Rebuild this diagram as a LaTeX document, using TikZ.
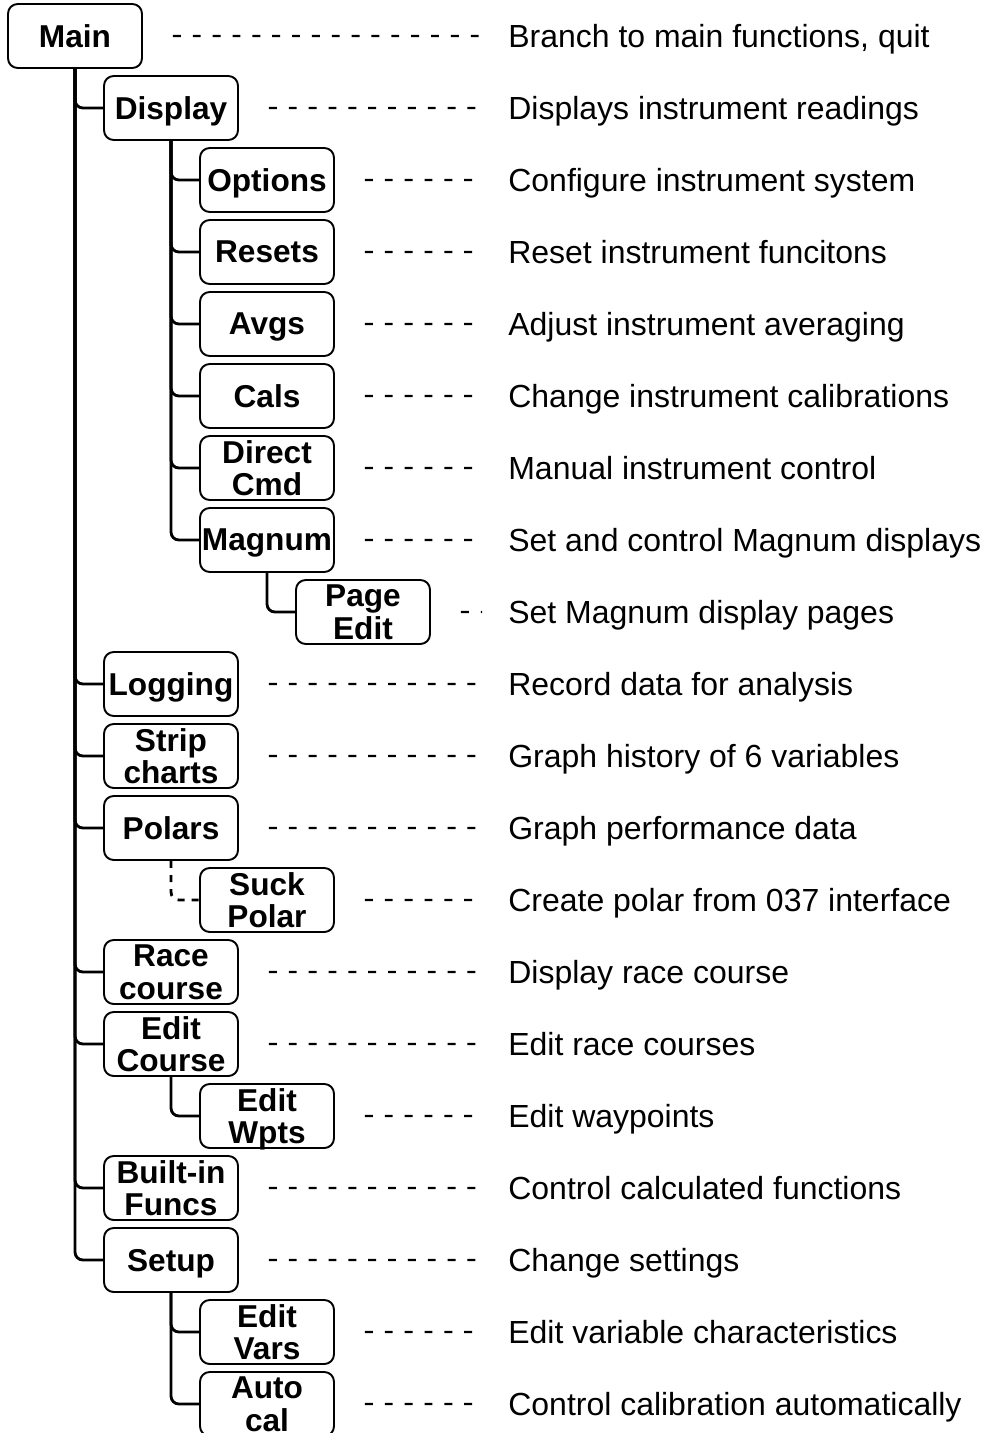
\documentclass[tikz,border=0pt]{standalone}
\usepackage{fontspec}
\setmainfont{Liberation Sans}
\usetikzlibrary{
  positioning,
  calc
}

\begin{document}
\begin{tikzpicture}[
    x=0.02cm, y=0.02cm,
    box/.style={draw, line width=1.1pt, rounded corners=5.5pt,
      minimum width=2.68cm, minimum height=1.28cm, inner sep=0pt,
      text depth=0pt,
      align=center, font=\fontsize{18}{18.4}\selectfont\bfseries},
    desc/.style={anchor=base west, inner sep=0pt,
      font=\fontsize{18.2}{21}\selectfont},
    link/.style={line width=1.6pt, rounded corners=4.5pt},
    guide/.style={line width=1.25pt, dash pattern=on 4.5pt off 6.8pt}
    ]

    \useasboundingbox (0,0) rectangle (985,-1433);

    % caixas e descricoes
    \foreach \n/\l/\r/\t/\d in {
      main/0/0/{Main}/{Branch to main functions, quit},
      disp/1/1/{Display}/{Displays instrument readings},
      opts/2/2/{Options}/{Configure instrument system},
      rsts/2/3/{Resets}/{Reset instrument funcitons},
      avgs/2/4/{Avgs}/{Adjust instrument averaging},
      cals/2/5/{Cals}/{Change instrument calibrations},
      dcmd/2/6/{Direct\\Cmd}/{Manual instrument control},
      magn/2/7/{Magnum}/{Set and control Magnum displays},
      pged/3/8/{Page\\Edit}/{Set Magnum display pages},
      logg/1/9/{Logging}/{Record data for analysis},
      strp/1/10/{Strip\\charts}/{Graph history of 6 variables},
      pols/1/11/{Polars}/{Graph performance data},
      suck/2/12/{Suck\\Polar}/{Create polar from 037 interface},
      race/1/13/{Race\\course}/{Display race course},
      edcr/1/14/{Edit\\Course}/{Edit race courses},
      wpts/2/15/{Edit\\Wpts}/{Edit waypoints},
      bltn/1/16/{Built-in\\Funcs}/{Control calculated functions},
      setp/1/17/{Setup}/{Change settings},
      vars/2/18/{Edit\\Vars}/{Edit variable characteristics},
      acal/2/19/{Auto\\cal}/{Control calibration automatically}}{
      \node[box] (\n) at ({75+96*\l},{-36-72*\r}) {\t};
      \node[desc] (\n-d) at (508,{-47.5-72*\r}) {\d};
      \draw[guide] ([xshift=0.6cm]\n.east) -- ([xshift=-0.52cm,yshift=0.23cm]\n-d.base west);
    }

    % ligacoes
    \foreach \p/\c in {
      main/disp, disp/opts, disp/rsts, disp/avgs, disp/cals,
      disp/dcmd, disp/magn, magn/pged, main/logg, main/strp,
      main/pols, main/race, main/edcr, edcr/wpts, main/bltn,
      main/setp, setp/vars, setp/acal}{
      \draw[link] (\p.south) |- (\c.west);
    }
    \draw[link, dash pattern=on 4pt off 4pt] (pols.south) |- (suck.west);

\end{tikzpicture}
\end{document}
